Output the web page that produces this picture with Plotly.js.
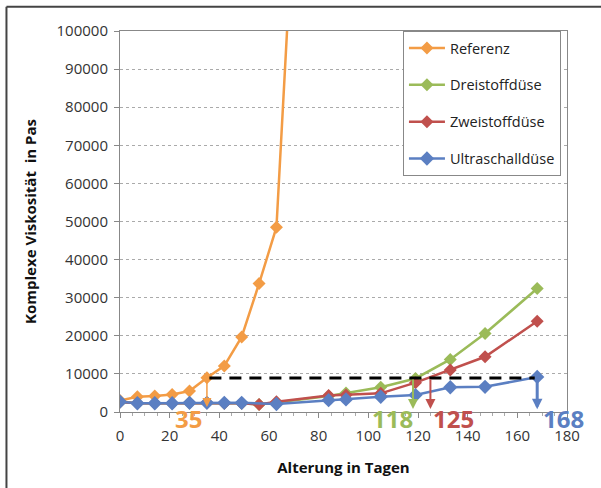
<!DOCTYPE html>
<html>
<head>
<meta charset="utf-8">
<script src="https://cdn.plot.ly/plotly-3.0.1.min.js"></script>
<style>
  html, body { margin: 0; padding: 0; background: #fff; }
  #chart { width: 601px; height: 488px; }
</style>
</head>
<body>
<div id="chart"></div>
<script>
// ---- Data ----
const seriesNames = ["Referenz", "Dreistoffdüse", "Zweistoffdüse", "Ultraschalldüse"];

const refDays   = [0, 7, 14, 21, 28, 35, 42, 49, 56, 63, 70];
const refVisc   = [3000, 4000, 4200, 4600, 5500, 9000, 12100, 19700, 33700, 48500, 133000];

const dreiDays  = [0, 7, 14, 21, 28, 35, 42, 49, 56, 63, 84, 91, 105, 119, 133, 147, 168];
const dreiVisc  = [2600, 2300, 2300, 2300, 2400, 2400, 2300, 2300, 2000, 2500, 4200, 5000, 6500, 8800, 13800, 20600, 32400];

const zweiDays  = [0, 7, 14, 21, 28, 35, 42, 49, 56, 63, 84, 91, 105, 119, 133, 147, 168];
const zweiVisc  = [2600, 2300, 2300, 2300, 2400, 2400, 2300, 2300, 2000, 2700, 4300, 4450, 4900, 7700, 11000, 14500, 23800];

const ultraDays = [0, 7, 14, 21, 28, 35, 42, 49, 63, 84, 91, 105, 119, 133, 147, 168];
const ultraVisc = [2700, 2300, 2300, 2300, 2400, 2400, 2400, 2400, 2100, 3100, 3300, 4000, 4450, 6500, 6600, 9200];

const xTicks = [0, 20, 40, 60, 80, 100, 120, 140, 160, 180];
const yTicks = [0, 10000, 20000, 30000, 40000, 50000, 60000, 70000, 80000, 90000, 100000];

const threshold = 8900;
const markDays   = [35, 118, 125, 168];
const markLabels = ["35", "118", "125", "168"];
const markTop    = [9000, 8900, 8900, 9200];
const markBottom = [1300, 800, 800, 700];

// ---- Styles ----
const colors = ["#F39C45", "#9BBB59", "#C0504D", "#5B7FC2"];
const FONT = "Open Sans, Liberation Sans, sans-serif";

function trace(name, xs, ys, i, msize) {
  return {
    type: "scatter", mode: "lines+markers", name: name,
    x: xs, y: ys, legendgroup: "g" + i,
    line: { color: colors[i], width: 2.5 },
    marker: { symbol: "diamond", size: msize, color: colors[i] },
    cliponaxis: true
  };
}

const data = [
  trace(seriesNames[0], refDays, refVisc, 0, 10),
  trace(seriesNames[1], dreiDays, dreiVisc, 1, 10),
  trace(seriesNames[2], zweiDays, zweiVisc, 2, 10),
  trace(seriesNames[3], ultraDays, ultraVisc, 3, 11)
];

const annotations = [];
const arrowWidths = [1.5, 2, 2, 3];
const arrowSizes  = [1.2, 1, 1, 0.7];
markDays.forEach((d, k) => {
  annotations.push({
    x: d, y: markBottom[k], xref: "x", yref: "y",
    ax: d, ay: markTop[k], axref: "x", ayref: "y",
    text: "", showarrow: true, arrowhead: 2, arrowsize: arrowSizes[k],
    arrowwidth: arrowWidths[k], arrowcolor: colors[k]
  });
});
// number labels (below the axis line, positioned in paper units vertically)
const labelSide = ["right", "right", "left", "left"];
const labelShift = [-3, 2, 1, 4];
markDays.forEach((d, k) => {
  annotations.push({
    x: d, y: -0.016, xref: "x", yref: "paper",
    text: "<b>" + markLabels[k] + "</b>", showarrow: false,
    xanchor: labelSide[k], yanchor: "middle", xshift: labelShift[k],
    font: { family: FONT, size: 24, color: colors[k] }
  });
});

const layout = {
  width: 601, height: 488,
  margin: { l: 120, r: 34, t: 31, b: 76 },
  paper_bgcolor: "#ffffff", plot_bgcolor: "#ffffff",
  font: { family: FONT, size: 15, color: "#333" },
  showlegend: true,
  legend: {
    x: 0.633, y: 1, xanchor: "left", yanchor: "top",
    bgcolor: "#ffffff", bordercolor: "#888", borderwidth: 1,
    font: { family: FONT, size: 14.5, color: "#222" },
    traceorder: "grouped", tracegroupgap: 15, itemwidth: 36
  },
  xaxis: {
    range: [0, 180], tickvals: xTicks, ticktext: xTicks.map(String),
    showgrid: false, zeroline: false,
    showline: true, linecolor: "#888", linewidth: 1, mirror: true,
    ticks: "outside", ticklen: 5, tickcolor: "#888",
    ticklabelstandoff: 5,
    minor: { dtick: 5, ticks: "outside", ticklen: 3, tickcolor: "#aaa", showgrid: false },
    tickfont: { family: FONT, size: 15, color: "#333" },
    title: { text: "<b>Alterung in Tagen</b>", font: { family: FONT, size: 15, color: "#111" }, standoff: 18 }
  },
  yaxis: {
    range: [0, 100000], tickvals: yTicks, ticktext: yTicks.map(String),
    showgrid: true, gridcolor: "#aaa", griddash: "dot", gridwidth: 1,
    zeroline: false,
    showline: true, linecolor: "#888", linewidth: 1, mirror: true,
    ticks: "outside", ticklen: 5, tickcolor: "#888",
    ticklabelstandoff: 3,
    tickfont: { family: FONT, size: 15, color: "#333" },
    title: { text: "<b>Komplexe Viskosität  in Pas</b>", font: { family: FONT, size: 15, color: "#111" }, standoff: 16 }
  },
  shapes: [
    { type: "line", xref: "x", yref: "y", x0: 36, x1: 167, y0: threshold, y1: threshold,
      line: { color: "#000", width: 3, dash: "12px,8px" } },
    { type: "line", xref: "paper", yref: "paper", x0: -0.254, x1: 1.2, y0: 1.0635, y1: 1.0635,
      line: { color: "#444", width: 2 } },
    { type: "line", xref: "paper", yref: "paper", x0: -0.254, x1: -0.254, y0: 1.0635, y1: -0.3,
      line: { color: "#444", width: 2 } }
  ],
  annotations: annotations
};

Plotly.newPlot("chart", data, layout, { displayModeBar: false, staticPlot: true });
</script>
</body>
</html>
